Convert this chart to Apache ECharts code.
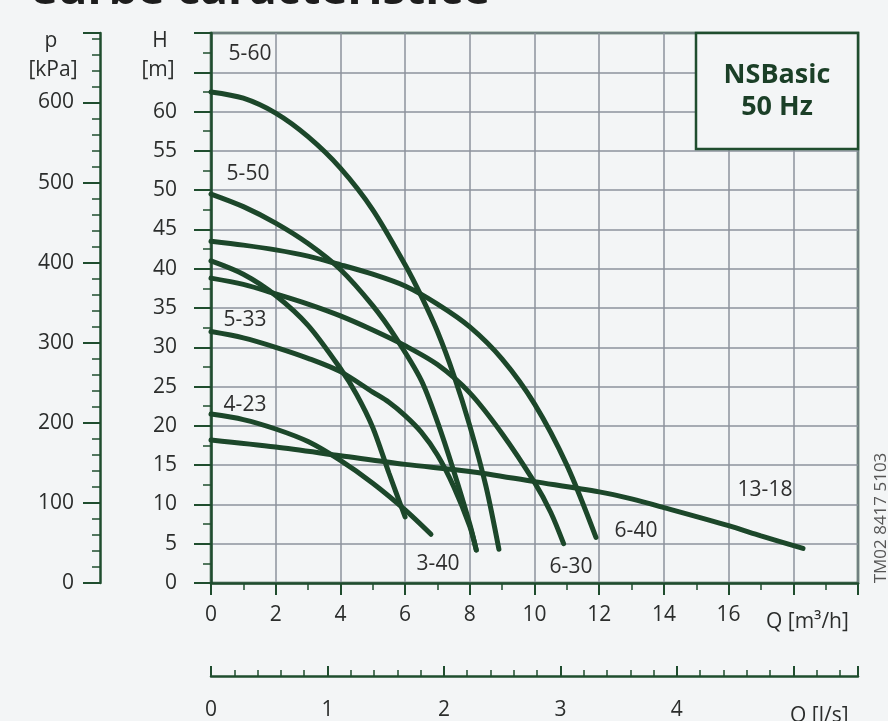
<!DOCTYPE html>
<html>
<head>
<meta charset="utf-8">
<script src="https://cdn.jsdelivr.net/npm/echarts@6/dist/echarts.min.js"></script>
<style>
html,body{margin:0;padding:0;background:#f3f5f6;}
#chart{width:888px;height:721px;}
</style>
</head>
<body>
<div id="chart"></div>
<script>
// ---------- data (Q in m3/h, H in m) ----------
const curveNames = ['5-60', '5-50', '6-40', '3-40', '6-30', '5-33', '4-23', '13-18'];

const q_5_60 = [0, 1, 2, 3, 4, 5, 6, 6.5, 7, 7.5, 8, 8.5, 8.9];
const h_5_60 = [62.5, 61.7, 59.8, 56.8, 52.8, 47.5, 40.5, 36.5, 32, 26.5, 20, 12.3, 4.3];

const q_5_50 = [0, 1, 2, 3, 4, 5, 5.7, 6.5, 7, 7.5, 8, 8.2];
const h_5_50 = [49.5, 47.9, 45.8, 43.2, 39.9, 35.3, 31.3, 25.8, 20.5, 14.3, 7.5, 4.2];

const q_6_40 = [0, 1, 2, 3, 4, 5, 6, 7, 8, 9, 10, 11, 11.9];
const h_6_40 = [43.5, 43, 42.4, 41.6, 40.5, 39.3, 37.8, 35.5, 32.6, 28.5, 22.8, 15, 5.8];

const q_3_40 = [0, 1, 2, 3, 4, 4.5, 5, 5.5, 6];
const h_3_40 = [41, 39.3, 36.6, 32.8, 27.3, 24, 19.8, 14, 8.4];

const q_6_30 = [0, 1, 2, 3, 4, 5, 6, 7, 8, 9, 10, 10.5, 10.9];
const h_6_30 = [38.8, 38, 36.8, 35.5, 34, 32.2, 30.2, 27.8, 24.2, 19, 12.8, 9, 5];

const q_5_33 = [0, 1, 2, 3, 4, 5, 5.5, 6, 6.5, 7, 7.5, 8, 8.2];
const h_5_33 = [32, 31.2, 30, 28.6, 26.9, 24.3, 23, 21.3, 19.2, 16.3, 12.3, 7.2, 4.2];

const q_4_23 = [0, 1, 2, 3, 4, 5, 6, 6.8];
const h_4_23 = [21.5, 20.8, 19.6, 18, 15.6, 12.7, 9.3, 6.2];

const q_13_18 = [0, 2, 4, 6, 8, 10, 12, 13, 14, 16, 17, 18.3];
const h_13_18 = [18.2, 17.3, 16.2, 15.1, 14.2, 12.9, 11.6, 10.7, 9.6, 7.3, 6, 4.4];

const curveQ = [q_5_60, q_5_50, q_6_40, q_3_40, q_6_30, q_5_33, q_4_23, q_13_18];
const curveH = [h_5_60, h_5_50, h_6_40, h_3_40, h_6_30, h_5_33, h_4_23, h_13_18];

// axis settings
const hMax = 70;            // m
const kPaPerM = 9.81;
const qMax = 20;            // m3/h
const lsFactor = 3.6;       // m3/h per l/s

// ---------- styles ----------
const BG = '#f3f5f6';
const AX = '#1f4d2e';
const GRID = '#8d929c';
const CURVE = '#1c472a';
const TXT = '#2b2d2c';
const FONT = '"Open Sans", "Noto Sans", sans-serif';

const chart = echarts.init(document.getElementById('chart'), null, {renderer: 'canvas'});

const series = curveNames.map((name, i) => ({
  name: name,
  type: 'line',
  xAxisIndex: 0,
  yAxisIndex: 0,
  showSymbol: false,
  smooth: 0.3,
  lineStyle: {color: CURVE, width: 5, cap: 'round'},
  data: curveQ[i].map((q, j) => [q, curveH[i][j]]),
  z: 5
}));

function txt(text, x, y, opts) {
  return {
    type: 'text', x: x, y: y, z: 50, silent: true,
    style: Object.assign({
      text: text, fill: TXT, font: '21px ' + FONT,
      textAlign: 'center', textVerticalAlign: 'middle', verticalAlign: 'middle'
    }, opts || {})
  };
}

const curveLabelPos = [
  ['5-60', 250, 54], ['5-50', 248, 174], ['5-33', 245, 320], ['4-23', 245, 405],
  ['3-40', 438, 564], ['6-30', 571, 567], ['6-40', 636, 531], ['13-18', 765, 490]
];

const graphics = [
  // title (cut off at the top of the picture)
  txt('Curbe caracteristice', 28, -9, {font: 'bold 46px ' + FONT, textAlign: 'left', fill: '#1d1d1d'}),
  // axis titles
  txt('p', 51, 41, {}),
  txt('[kPa]', 53, 70, {}),
  txt('H', 160, 41, {}),
  txt('[m]', 158, 70, {}),
  txt('Q [m³/h]', 766, 622, {textAlign: 'left'}),
  txt('Q [l/s]', 790, 716, {textAlign: 'left'}),
  // NSBasic box
  {type: 'rect', z: 40, silent: true,
   shape: {x: 696, y: 33, width: 162, height: 116},
   style: {fill: BG, stroke: AX, lineWidth: 2.5}},
  txt('NSBasic', 777, 75, {font: 'bold 27px ' + FONT, fill: '#1b3f27'}),
  txt('50 Hz', 777, 107, {font: 'bold 27px ' + FONT, fill: '#1b3f27'}),
  // code
  {type: 'text', x: 881, y: 518, rotation: Math.PI / 2, z: 50, silent: true,
   style: {text: 'TM02 8417 5103', fill: '#555', font: '17px ' + FONT,
           textAlign: 'center', textVerticalAlign: 'middle', verticalAlign: 'middle'}}
].concat(curveLabelPos.map(p => txt(p[0], p[1], p[2], {fill: '#2e2e2e'})));

const option = {
  backgroundColor: BG,
  animation: false,
  grid: {left: 211, top: 33, right: 30, bottom: 134, show: true,
         borderColor: AX, borderWidth: 2.5, backgroundColor: 'transparent'},
  xAxis: [
    {
      type: 'value', min: 0, max: qMax, interval: 2, position: 'bottom',
      axisLine: {show: true, onZero: false, lineStyle: {color: AX, width: 2.5}},
      axisTick: {show: true, length: 12, lineStyle: {color: AX, width: 2}},
      minorTick: {show: true, splitNumber: 2, length: 7, lineStyle: {color: AX, width: 1.5}},
      splitLine: {show: true, lineStyle: {color: GRID, width: 1.5}},
      axisLabel: {margin: 22, fontSize: 21, color: TXT, fontFamily: FONT,
                  formatter: v => (v <= 16 ? String(v) : '')}
    },
    {
      type: 'value', min: 0, max: qMax / lsFactor, interval: 1, position: 'bottom', offset: 93,
      axisLine: {show: true, onZero: false, lineStyle: {color: AX, width: 2.5}},
      axisTick: {show: true, inside: true, length: 10, lineStyle: {color: AX, width: 2}},
      minorTick: {show: true, splitNumber: 5, length: 6, lineStyle: {color: AX, width: 1.5}},
      splitLine: {show: false},
      axisLabel: {margin: 24, fontSize: 21, color: TXT, fontFamily: FONT,
                  formatter: v => ((v <= 4 && Number.isInteger(v)) ? String(v) : '')}
    }
  ],
  yAxis: [
    {
      type: 'value', min: 0, max: hMax, interval: 5, position: 'left',
      axisLine: {show: true, onZero: false, lineStyle: {color: AX, width: 2.5}},
      axisTick: {show: true, length: 17, lineStyle: {color: AX, width: 2}},
      minorTick: {show: true, splitNumber: 2, length: 8, lineStyle: {color: AX, width: 1.5}},
      splitLine: {show: true, lineStyle: {color: GRID, width: 1.5}},
      axisLabel: {margin: 34, fontSize: 21, color: TXT, fontFamily: FONT,
                  formatter: v => (v <= 60 ? String(v) : '')}
    },
    {
      type: 'value', min: 0, max: hMax * kPaPerM, interval: 100, position: 'left', offset: 111,
      axisLine: {show: true, onZero: false, lineStyle: {color: AX, width: 2.5}},
      axisTick: {show: true, length: 17, lineStyle: {color: AX, width: 2}},
      minorTick: {show: true, splitNumber: 5, length: 8, lineStyle: {color: AX, width: 1.5}},
      splitLine: {show: false},
      axisLabel: {margin: 26, fontSize: 21, color: TXT, fontFamily: FONT,
                  formatter: v => ((v % 100 === 0 && v <= 600) ? String(v) : '')}
    }
  ],
  series: series,
  graphic: graphics
};

chart.setOption(option);
</script>
</body>
</html>
